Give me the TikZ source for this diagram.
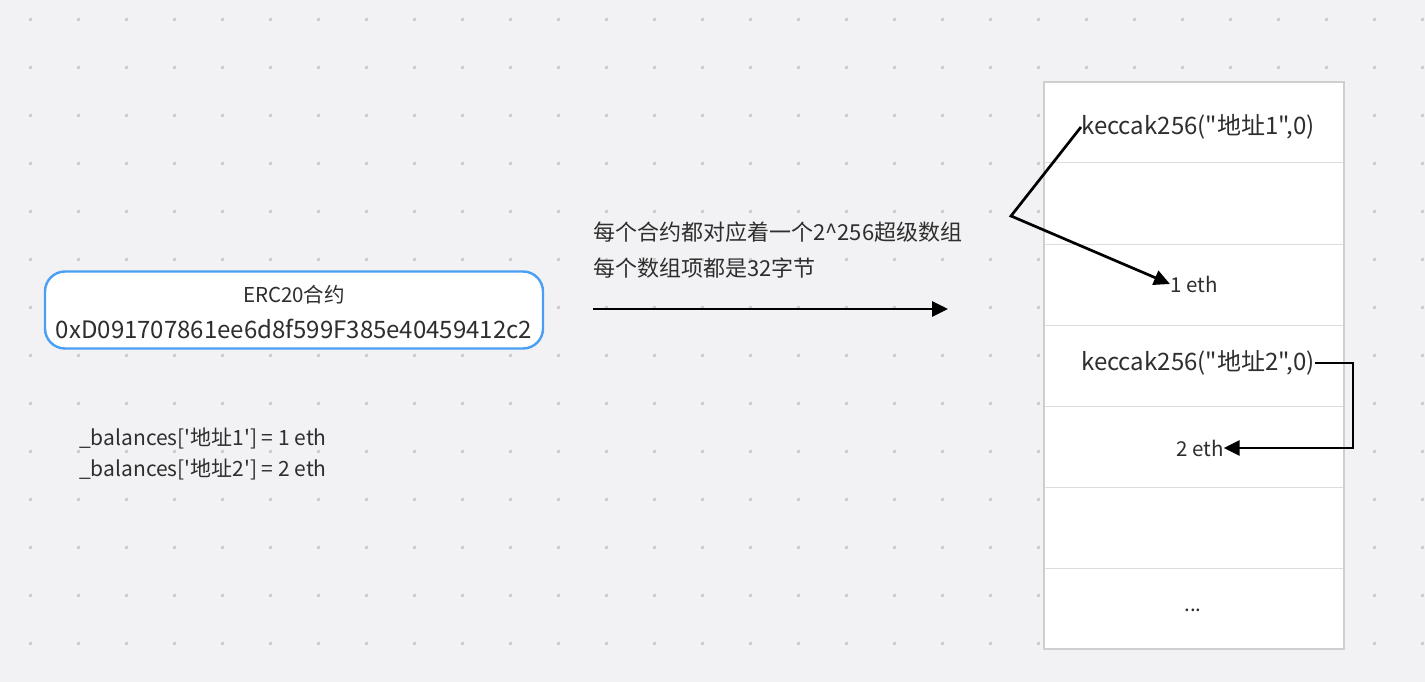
\documentclass[tikz,border=0pt]{standalone}
\usepackage{fontspec}
\setmainfont{Noto Sans CJK SC}[Ligatures=TeXOff]
\usetikzlibrary{arrows.meta}
\definecolor{bg}{HTML}{F2F2F4}
\definecolor{dotc}{HTML}{CDCDD0}
\definecolor{txt}{HTML}{2E2E2E}
\definecolor{blueb}{HTML}{4A9FF5}
\definecolor{cellline}{HTML}{DCDCDC}
\definecolor{tborder}{HTML}{CFCFCF}
\tikzset{
  lbl/.style={text=txt, inner sep=0pt, font=\fontsize{#1}{#1}\selectfont},
  lbl/.default=21,
  conn/.style={draw=black, line width=2.7pt, -{Triangle[length=16pt,width=15pt]}}
}
\begin{document}
\begin{tikzpicture}[x=1pt,y=-1pt]
\useasboundingbox (0,0) rectangle (1425,682);
\fill[bg] (0,0) rectangle (1425,682);
% dot grid
\foreach \i in {0,...,29}{
  \foreach \j in {0,...,13}{
    \fill[dotc] ({30.5+48*\i-1.3},{19.5+48*\j-1.3}) rectangle ++(2.6,2.6);
  }
}
% table
\fill[white] (1044,82) rectangle (1344,649);
\foreach \yy in {163,244,325,406,487,568}{
  \draw[cellline, line width=1pt] (1044,\yy) -- (1344,\yy);
}
\draw[tborder, line width=1.2pt] (1044,82) rectangle (1344,649);
% contract box
\node[draw=blueb, line width=2.4pt, fill=white, rounded corners=20pt,
      minimum width=498pt, minimum height=77pt, inner sep=0pt] (box) at (294,310) {};
\node[lbl=20.5] (t1) at (294,295) {ERC20合约};
\node[lbl=24] (t2) at (294,329) {0xD091707861ee6d8f599F385e40459412c2};
% balances
\node[lbl=21, anchor=west] (b1) at (79,438) {\_balances['地址1'] = 1 eth};
\node[lbl=21, anchor=west] (b2) at (79,469) {\_balances['地址2'] = 2 eth};
% caption
\node[lbl=22, anchor=west] (c1) at (593,232) {每个合约都对应着一个2\^{}256超级数组};
\node[lbl=22, anchor=west] (c2) at (593,268) {每个数组项都是32字节};
% main arrow
\coordinate (ma) at (593,309);
\coordinate (mb) at (948,309);
\draw[conn] (ma) -- (mb);
% cell texts
\node[lbl=24, anchor=west] (k1) at (1081,127) {keccak256("地址1",0)};
\node[lbl=20.5, anchor=west] (e1) at (1170,284) {1 eth};
\node[lbl=24, anchor=west] (k2) at (1081,363) {keccak256("地址2",0)};
\node[lbl=20.5, anchor=west] (e2) at (1176,448) {2 eth};
\node[lbl=20.5] (dots) at (1193,610) {...};
% arrows
\coordinate (bend1) at (1011,216);
\draw[conn] (k1.west) -- (bend1) -- (e1.west);
\draw[conn] (k2.east) -- (1353,363) -- (1353,448) -- (e2.east);
\end{tikzpicture}
\end{document}
